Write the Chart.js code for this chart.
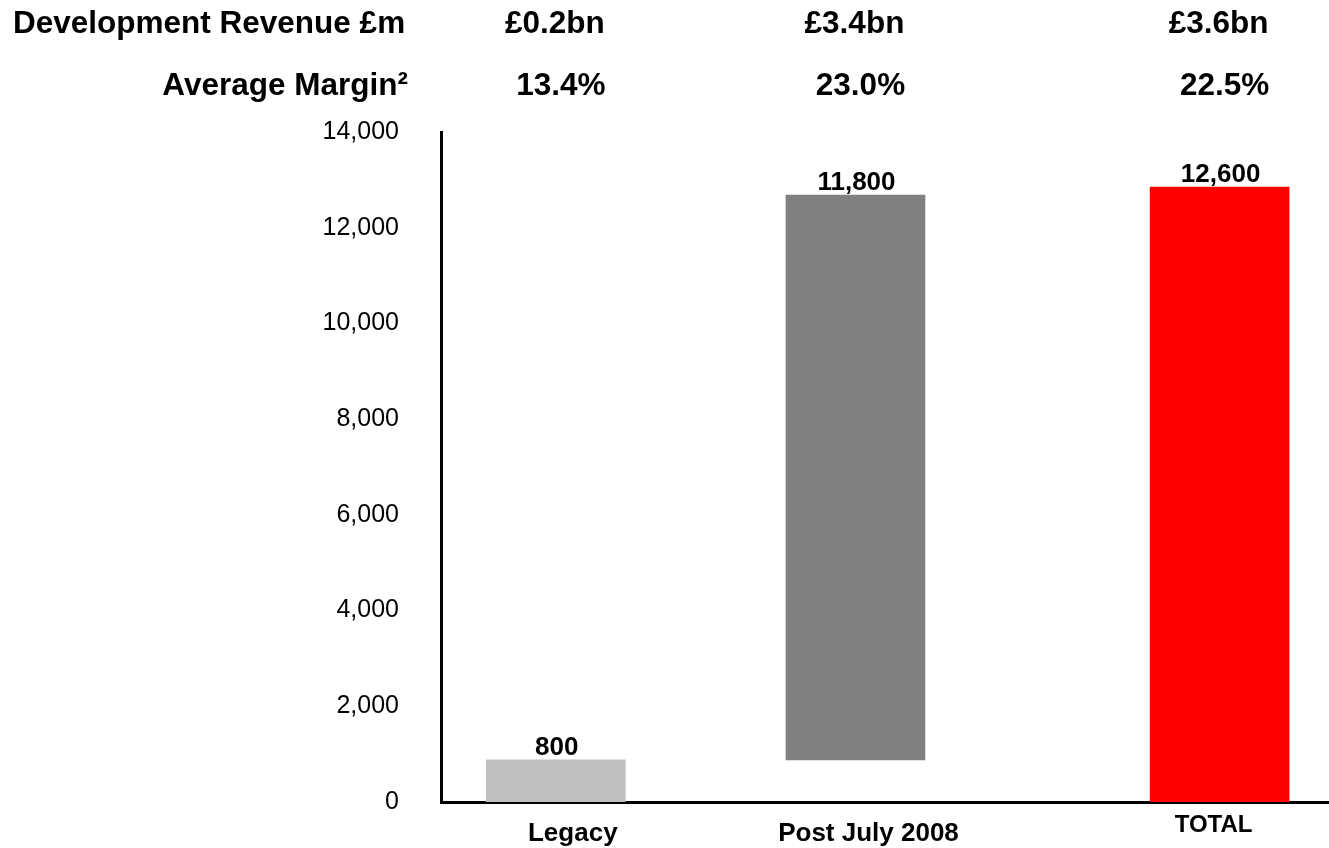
<!DOCTYPE html>
<html><head><meta charset="utf-8">
<script src="https://cdn.jsdelivr.net/npm/chart.js@4"></script>
<style>html,body{margin:0;padding:0;background:#fff}#wrap{width:1329px;height:848px}</style>
</head><body><div id="wrap"><canvas id="c" width="1329" height="848"></canvas></div>
<script>
// ---- data ----
const categories = ['Legacy', 'Post July 2008', 'TOTAL'];
const barStart = [0, 880, 0];
const barEnd = [880, 12680, 12850];
const valueLabels = ['800', '11,800', '12,600'];
const revenueLabels = ['£0.2bn', '£3.4bn', '£3.6bn'];
const marginLabels = ['13.4%', '23.0%', '22.5%'];
const rowTitles = ['Development Revenue £m', 'Average Margin²'];
const yTicks = [0, 2000, 4000, 6000, 8000, 10000, 12000, 14000];

// ---- layout / style ----
const FONT = '"Liberation Sans", Arial, Helvetica, sans-serif';
const xSlots = [1, 2, 3.215];
const barColors = ['#C0C0C0', '#808080', '#FF0000'];
const catLabelStyle = [
  {dx: 17, base: 841, size: 26},
  {dx: 13, base: 841, size: 26},
  {dx: -6, base: 832, size: 24}
];

const headerPlugin = {
  id: 'headers',
  afterDraw(chart) {
    const ctx = chart.ctx;
    const xs = chart.scales.x, ys = chart.scales.y;
    ctx.save();
    ctx.fillStyle = '#000';
    ctx.font = 'bold 31.5px ' + FONT;
    ctx.textBaseline = 'alphabetic';
    ctx.textAlign = 'left';
    ctx.fillText(rowTitles[0], 13, 33);
    ctx.textAlign = 'right';
    ctx.fillText(rowTitles[1], 408, 95);
    ctx.textAlign = 'center';
    categories.forEach((c, i) => {
      const px = xs.getPixelForValue(xSlots[i]);
      ctx.fillText(revenueLabels[i], px - 1, 33);
      ctx.fillText(marginLabels[i], px + 5, 95);
    });
    ctx.font = 'bold 26px ' + FONT;
    categories.forEach((c, i) => {
      const px = xs.getPixelForValue(xSlots[i]);
      const py = ys.getPixelForValue(barEnd[i]);
      ctx.fillText(valueLabels[i], px + 1, py - 5);
    });
    categories.forEach((c, i) => {
      const st = catLabelStyle[i];
      const px = xs.getPixelForValue(xSlots[i]);
      ctx.font = 'bold ' + st.size + 'px ' + FONT;
      ctx.fillText(c, px + st.dx, st.base);
    });
    ctx.restore();
  }
};

new Chart(document.getElementById('c'), {
  type: 'bar',
  data: {
    datasets: [{
      data: categories.map((c, i) => ({x: xSlots[i], y: [barStart[i], barEnd[i]]})),
      backgroundColor: barColors,
      borderWidth: 0,
      barThickness: 139
    }]
  },
  options: {
    responsive: false,
    devicePixelRatio: 1,
    animation: false,
    layout: {padding: {top: 132, bottom: 46, left: 0, right: 0}},
    plugins: {legend: {display: false}, tooltip: {enabled: false}},
    scales: {
      x: {
        type: 'linear',
        min: 0.617,
        max: 3.58,
        offset: false,
        grid: {display: false, drawTicks: false, tickLength: 0},
        ticks: {display: false},
        border: {display: true, color: '#000', width: 3},
        afterFit: s => { s.height = 0; }
      },
      y: {
        type: 'linear',
        min: 0,
        max: 14000,
        grid: {display: false, drawTicks: false, tickLength: 0},
        border: {display: true, color: '#000', width: 3},
        afterBuildTicks: s => { s.ticks = yTicks.map(v => ({value: v})); },
        ticks: {
          color: '#000',
          padding: 42,
          font: {family: FONT, size: 25},
          callback: v => Number(v).toLocaleString('en-US')
        },
        afterFit: s => { s.width = 441; s.paddingTop = 0; s.paddingBottom = 0; }
      }
    }
  },
  plugins: [headerPlugin]
});
</script>
</body></html>
